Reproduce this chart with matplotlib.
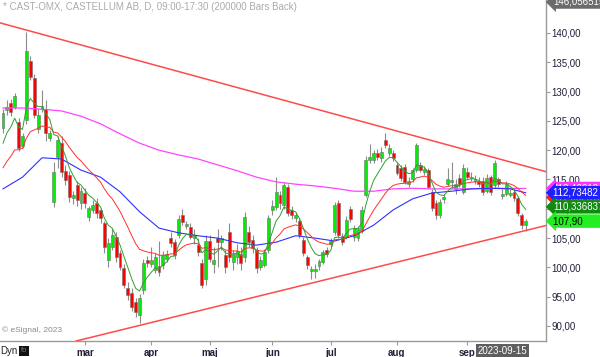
import matplotlib
matplotlib.use('Agg')
import matplotlib.pyplot as plt
from matplotlib.transforms import blended_transform_factory

TITLE = '* CAST-OMX, CASTELLUM AB, D, 09:00-17:30 (200000 Bars Back)'

# daily bars, mid January -> 2023-09-15
OPENS = [123.8, 126.8, 128.0, 127.4, 124.8, 120.8, 125.2, 135.2, 132.3, 123.6,
         127.0, 127.0, 122.0, 111.2, 118.8, 121.2, 116.4, 115.8, 111.8, 114.0,
         111.0, 112.7, 108.6, 109.8, 111.0, 109.8, 107.6, 101.3, 103.5, 105.2,
         102.5, 99.9, 96.5, 95.6, 94.1, 91.9, 96.1, 101.3, 100.6, 99.6,
         100.2, 100.4, 101.5, 105.0, 104.3, 105.5, 109.0, 107.0, 106.9, 105.0,
         103.8, 100.8, 98.0, 104.5, 100.5, 105.0, 104.3, 102.1, 106.0, 101.0,
         101.8, 102.3, 101.8, 106.0, 104.7, 103.0, 100.1, 100.4, 103.0, 109.8,
         110.3, 112.3, 110.6, 113.7, 109.8, 108.5, 108.0, 104.7, 101.8, 99.3,
         99.3, 100.3, 100.9, 102.9, 104.0, 106.0, 111.0, 105.3, 105.2, 110.0,
         105.2, 105.0, 106.2, 112.4, 118.3, 118.3, 119.5, 118.6, 121.7, 119.5,
         119.5, 117.5, 117.0, 117.1, 114.2, 115.0, 116.6, 117.5, 116.2, 116.6,
         112.9, 111.0, 108.9, 111.6, 114.3, 114.5, 113.3, 115.3, 112.9, 116.3,
         115.2, 114.8, 114.8, 114.8, 113.1, 115.4, 114.0, 115.0, 112.2, 112.6,
         112.3, 112.9, 111.8, 108.9, 107.2]
HIGHS = [127.0, 128.5, 128.8, 129.8, 125.5, 123.0, 140.2, 136.0, 133.0, 127.0,
         130.3, 128.5, 123.5, 118.0, 122.5, 122.5, 117.5, 116.5, 113.0, 114.8,
         113.8, 113.5, 110.5, 111.5, 111.8, 110.2, 108.0, 105.0, 106.5, 106.0,
         103.0, 100.5, 97.5, 96.5, 94.8, 95.5, 101.5, 102.0, 103.5, 102.5,
         104.5, 102.8, 103.0, 106.0, 104.8, 109.0, 110.0, 108.0, 107.5, 106.5,
         105.0, 101.5, 105.5, 105.5, 103.5, 106.5, 105.5, 103.0, 107.5, 103.0,
         104.0, 103.5, 109.5, 107.0, 105.5, 103.5, 102.0, 103.2, 109.0, 111.5,
         115.5, 113.0, 114.5, 114.3, 110.5, 109.5, 108.5, 105.2, 102.2, 100.3,
         100.5, 101.5, 103.0, 103.5, 105.0, 111.2, 111.5, 105.8, 108.8, 110.5,
         107.3, 107.0, 110.5, 119.0, 121.0, 120.0, 120.2, 120.5, 123.0, 121.0,
         120.0, 118.0, 117.5, 117.6, 115.5, 117.0, 121.3, 118.0, 117.3, 117.0,
         113.3, 111.5, 111.6, 112.5, 117.0, 118.0, 115.0, 116.0, 117.6, 117.2,
         116.3, 115.8, 115.5, 115.5, 115.9, 115.8, 118.4, 115.5, 113.3, 114.8,
         113.3, 113.5, 112.2, 109.3, 108.3]
LOWS = [123.0, 126.0, 125.8, 127.0, 119.8, 120.3, 124.5, 132.0, 125.5, 123.0,
        126.5, 121.5, 121.5, 110.3, 117.0, 115.5, 114.0, 111.2, 110.8, 110.5,
        110.0, 110.2, 108.0, 109.2, 108.5, 107.6, 102.5, 100.0, 103.0, 101.0,
        99.5, 96.5, 94.5, 92.5, 91.5, 90.5, 95.5, 100.0, 100.0, 99.0,
        98.5, 99.8, 101.0, 103.5, 101.5, 105.0, 107.3, 106.5, 104.8, 104.0,
        102.0, 96.5, 97.0, 101.0, 99.0, 100.0, 103.0, 99.0, 101.0, 99.5,
        100.5, 99.5, 101.0, 103.5, 102.5, 99.0, 99.5, 100.0, 102.5, 109.0,
        109.8, 110.0, 110.0, 108.8, 108.3, 107.8, 105.0, 102.0, 99.8, 98.0,
        98.2, 99.5, 100.5, 101.8, 103.5, 105.5, 105.0, 103.8, 104.8, 107.8,
        104.5, 104.5, 105.8, 112.0, 117.8, 117.8, 118.3, 118.0, 120.3, 119.0,
        118.2, 115.8, 114.8, 114.2, 113.8, 114.5, 116.2, 116.2, 115.8, 113.3,
        109.6, 108.2, 108.5, 111.0, 113.9, 113.5, 112.5, 113.8, 112.5, 115.0,
        114.8, 114.3, 113.7, 112.4, 112.7, 112.4, 113.5, 113.8, 111.7, 112.2,
        112.0, 111.3, 108.8, 106.6, 106.2]
CLOSES = [126.3, 127.3, 126.5, 129.2, 120.3, 122.4, 136.9, 132.5, 126.0, 126.0,
          127.5, 122.9, 123.0, 116.2, 121.8, 116.3, 114.9, 112.0, 112.3, 111.5,
          113.0, 111.0, 110.1, 110.6, 109.3, 108.4, 103.5, 104.2, 105.5, 101.8,
          100.1, 97.0, 95.3, 93.2, 92.4, 94.8, 100.8, 100.8, 101.2, 101.8,
          99.2, 102.1, 102.3, 104.2, 102.1, 108.3, 107.8, 107.4, 105.2, 105.5,
          102.6, 97.0, 104.5, 101.5, 101.3, 104.3, 105.0, 100.1, 101.8, 102.3,
          102.8, 100.8, 108.6, 104.3, 103.3, 99.9, 101.3, 102.6, 108.4, 110.5,
          112.9, 111.0, 114.0, 109.3, 109.0, 108.9, 105.5, 102.5, 100.4, 99.8,
          99.7, 101.1, 102.6, 102.3, 104.5, 110.6, 105.5, 104.3, 108.1, 108.3,
          106.8, 106.7, 109.8, 118.3, 118.8, 119.5, 118.8, 119.7, 120.9, 120.3,
          118.6, 116.1, 115.3, 114.6, 114.8, 116.6, 120.9, 116.6, 116.8, 113.7,
          110.1, 108.9, 111.2, 112.0, 115.0, 114.9, 114.2, 114.3, 117.0, 115.4,
          115.5, 115.0, 114.2, 112.9, 115.3, 112.9, 117.8, 114.3, 112.6, 114.3,
          112.7, 111.8, 109.3, 107.2, 107.9]

# slow averages at every 5th bar
SLOW_BARS = [0, 5, 10, 15, 20, 25, 30, 35, 40, 45, 50, 55, 60, 65, 70, 75, 80,
             85, 90, 95, 100, 105, 110, 115, 120, 125, 130, 134]
BLUE_MA = [113.4, 115.4, 118.7, 118.5, 116.6, 115.4, 112.9, 109.5, 106.7, 105.9,
           105.4, 105.0, 104.2, 103.8, 104.3, 105.4, 105.0, 104.5, 105.4, 107.2,
           109.8, 111.7, 112.7, 113.0, 113.4, 113.5, 113.4, 112.73]
MAGENTA_MA = [127.2, 127.2, 127.0, 126.7, 125.8, 124.5, 122.8, 121.2, 120.0, 119.2,
              118.5, 117.5, 116.5, 115.4, 114.6, 114.2, 113.9, 113.5, 113.0, 113.0,
              113.4, 113.5, 113.4, 113.4, 113.4, 113.5, 113.5, 113.47]

GREEN_START, GREEN_SPAN = 121.2, 6
RED_START, RED_SPAN = 117.0, 18

# trend lines, (bar, price) anchors
UPPER_TREND = [(6, 140.5), (130, 118.0)]
LOWER_TREND = [(35, 90.1), (134, 106.3)]

MONTHS = ['mar', 'apr', 'maj', 'jun', 'jul', 'aug', 'sep']
MONTH_BARS = [21, 38, 53, 69, 84, 101, 119]
PRICE_TICKS = [90, 95, 100, 105, 110, 115, 120, 125, 130, 135, 140]

# right-hand price markers: value, text, box colour, text colour
MARKERS = [
    (113.469124, '113,469124', '#ff33ff', 'white'),
    (111.95, '111,952615', '#ff2020', 'white'),
    (112.73482, '112,73482 ', '#1f1fff', 'white'),
    (110.336837, '110,336837', '#108a10', 'white'),
    (107.90, '107,90      ', '#22ee22', 'black'),
]
TOP_MARKER = '146,056515'
LAST_DATE = '2023-09-15'


def ema(values, span, start):
	alpha = 2.0 / (span + 1)
	out = [start]
	for v in values[1:]:
		out.append(out[-1] + alpha * (v - out[-1]))
	return out


def main():
	plt.rcParams['font.family'] = ['Liberation Sans', 'DejaVu Sans']
	fig = plt.figure(figsize=(6.0, 3.57), dpi=100)
	ax = fig.add_axes([0, 16 / 357, 546 / 600, 341 / 357])
	n = len(CLOSES)
	x = list(range(n))

	## candles ##
	ax.vlines(x, LOWS, HIGHS, color='#8c8c8c', lw=0.8, zorder=2)
	heights = []
	for o, c in zip(OPENS, CLOSES):
		h = c - o
		if abs(h) < 0.2:
			h = 0.2 if h >= 0 else -0.2
		heights.append(h)
	colors = ['#00ee00' if c >= o else '#ff0000' for o, c in zip(OPENS, CLOSES)]
	ax.bar(x, heights, bottom=OPENS, width=0.75, color=colors,
	       edgecolor='#707070', linewidth=0.4, zorder=3)

	## averages ##
	ax.plot(SLOW_BARS, MAGENTA_MA, color='#ff44ff', lw=0.9, zorder=4)
	ax.plot(SLOW_BARS, BLUE_MA, color='#3030ff', lw=0.8, zorder=4)
	ax.plot(x, ema(CLOSES, RED_SPAN, RED_START), color='#ff3030', lw=0.7, zorder=4)
	ax.plot(x, ema(CLOSES, GREEN_SPAN, GREEN_START), color='#30a030', lw=0.7, zorder=4)

	## trend lines ##
	ax.axline(UPPER_TREND[0], UPPER_TREND[1], color='#ff4a4a', lw=1.1, zorder=5)
	ax.axline(LOWER_TREND[0], LOWER_TREND[1], color='#ff4a4a', lw=1.1, zorder=5)

	ax.set_xlim(-0.77, 139.2)
	ax.set_ylim(87.44, 145.63)

	for side in ['top', 'left']:
		ax.spines[side].set_visible(False)
	for side in ['right', 'bottom']:
		ax.spines[side].set_color('#9a9a9a')
		ax.spines[side].set_linewidth(1.0)

	ax.yaxis.tick_right()
	ax.set_yticks(PRICE_TICKS)
	ax.set_yticklabels([('%.2f' % p).replace('.', ',') for p in PRICE_TICKS])
	ax.tick_params(axis='y', length=3, width=0.8, color='#9a9a9a', pad=1,
	               labelsize=7, labelcolor='#20203a')
	ax.set_xticks(MONTH_BARS)
	ax.set_xticklabels(MONTHS, fontweight='bold')
	ax.tick_params(axis='x', length=3, width=0.8, color='#9a9a9a', pad=2,
	               labelsize=7, labelcolor='#20203a')

	## texts ##
	fig.text(3 / 600, 1 - 7 / 357, TITLE, fontsize=7, color='#ababab', va='center')
	ax.text(0.004, 0.02, '\u00a9 eSignal, 2023', transform=ax.transAxes,
	        fontsize=6, color='#8a8a8a', va='bottom')
	fig.text(0, 6 / 357, 'Dyn', fontsize=7, color='#222222', va='center')
	fig.text(21 / 600, 6 / 357, 'fo', fontsize=5.5, color='#777777', va='center',
	         bbox=dict(boxstyle='square,pad=0.25', fc='#111111', ec='none'))

	for value, label, fc, tc in MARKERS:
		ax.text(n + 6.0, value, label, fontsize=7, color=tc, va='center', ha='left',
		        clip_on=False, zorder=10,
		        bbox=dict(boxstyle='larrow,pad=0.18', fc=fc, ec='none'))
	# last-price box above the plot is pinned to the top edge
	trans_top = blended_transform_factory(ax.transData, fig.transFigure)
	ax.text(n + 6.0, 1 - 2 / 357, TOP_MARKER, transform=trans_top, fontsize=7,
	        color='white', va='center', ha='left', clip_on=False, zorder=10,
	        bbox=dict(boxstyle='larrow,pad=0.18', fc='#6b6b6b', ec='none'))

	ax.text(n - 0.6, 6 / 357, LAST_DATE, transform=trans_top, fontsize=7, color='white',
	        ha='right', va='center', zorder=10,
	        bbox=dict(boxstyle='square,pad=0.22', fc='#5e5e5e', ec='none'))

	fig.savefig('out.png', dpi=100, facecolor='white')


if __name__ == '__main__':
	main()
